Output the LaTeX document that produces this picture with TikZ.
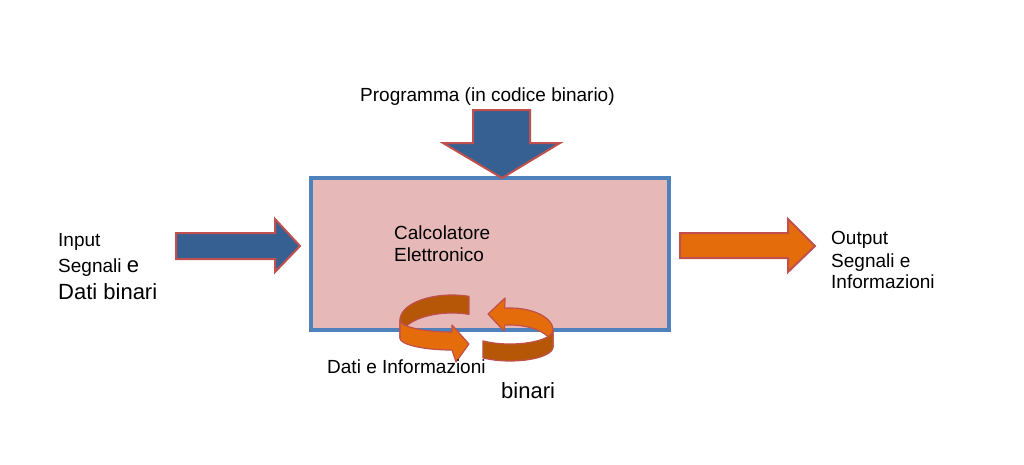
\documentclass[tikz,border=0pt]{standalone}
\usepackage{fontspec}
\setmainfont{Liberation Sans}
\definecolor{boxpink}{HTML}{E6B9B8}
\definecolor{boxblue}{HTML}{4F81BD}
\definecolor{arrblue}{HTML}{376092}
\definecolor{arrred}{HTML}{C0504D}
\definecolor{arrorange}{HTML}{E46C0A}
\definecolor{arrdark}{HTML}{B65708}

\begin{document}
\begin{tikzpicture}[x=1pt,y=-1pt,
   txt/.style={inner sep=0pt,anchor=base west,font=\fontsize{19}{22}\selectfont},
   bigtxt/.style={txt,font=\fontsize{22}{26}\selectfont},
   bluearr/.style={fill=arrblue,draw=arrred,line width=2pt},
   orangearr/.style={fill=arrorange,draw=arrred,line width=2pt},
   curl/.style={draw=arrred,line width=1.2pt,line join=round}]
   \useasboundingbox (0,0) rectangle (1024,464);

   \node [draw=boxblue,fill=boxpink,line width=3.5pt,minimum width=358pt,minimum height=152pt] (calc) at (490,254) {};

   % block arrows
   \draw [bluearr] (473,110) -- (530,110) -- (530,143) -- (560,143) -- (502,178)
                   -- (443,143) -- (473,143) -- cycle;
   \draw [bluearr] (176,233) -- (275,233) -- (275,219) -- (300,246) -- (275,272)
                   -- (275,259) -- (176,259) -- cycle;
   \draw [orangearr] (680,233) -- (788,233) -- (788,219) -- (815,246) -- (788,272)
                   -- (788,258) -- (680,258) -- cycle;

   % curled arrows
   \draw [curl,fill=arrdark] plot[variable=\t,domain=71:180,samples=30] ({452+52*cos(\t)},{320-25*sin(\t)})
        -- plot[variable=\t,domain=180:71,samples=30] ({452+52*cos(\t)},{338-25*sin(\t)}) -- cycle;
   \draw [curl,fill=arrorange] plot[variable=\t,domain=180:270,samples=30] ({452+52*cos(\t)},{320-12*sin(\t)})
        -- (452,325) -- (469,344) -- (456,362)
        -- plot[variable=\t,domain=270:180,samples=30] ({452+52*cos(\t)},{338-12*sin(\t)}) -- cycle;
   \draw [curl,fill=arrorange] (505,298) -- (488,314) -- (504,331)
        -- plot[variable=\t,domain=97:0,samples=30] ({510+43*cos(\t)},{347-22*sin(\t)})
        -- plot[variable=\t,domain=0:97,samples=30] ({510+43*cos(\t)},{330-22*sin(\t)}) -- cycle;
   \draw [curl,fill=arrdark] plot[variable=\t,domain=0:-129,samples=30] ({510+43*cos(\t)},{330-14*sin(\t)})
        -- plot[variable=\t,domain=-129:0,samples=30] ({510+43*cos(\t)},{347-14*sin(\t)}) -- cycle;

   % labels
   \node [txt] (prog) at (360,101) {Programma (in codice binario)};
   \node [txt] (calc1) at (394,239) {Calcolatore};
   \node [txt] (calc2) at (394,261) {Elettronico};
   \node [txt] (in1) at (58,246) {Input};
   \node [txt] (in2) at (58,272) {Segnali {\fontsize{22}{26}\selectfont e}};
   \node [bigtxt] (in3) at (58,299) {Dati binari};
   \node [txt] (out1) at (831,244) {Output};
   \node [txt] (out2) at (831,267) {Segnali e};
   \node [txt] (out3) at (831,288) {Informazioni};
   \node [txt] (dati) at (327,373) {Dati e Informazioni};
   \node [bigtxt] (bin) at (501,398) {binari};
\end{tikzpicture}
\end{document}
